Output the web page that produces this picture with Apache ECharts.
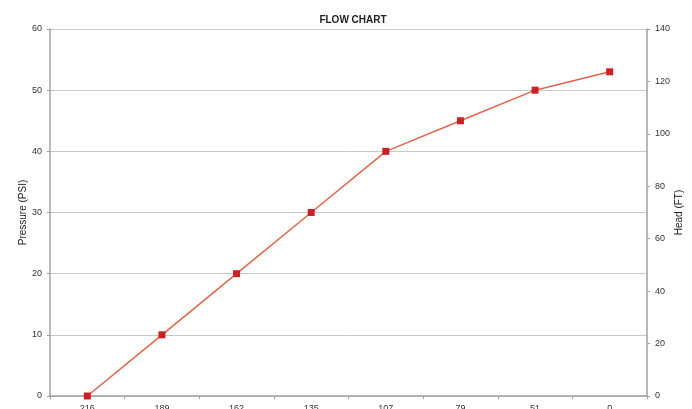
<!DOCTYPE html>
<html>
<head>
<meta charset="utf-8">
<script src="https://cdn.jsdelivr.net/npm/echarts@6/dist/echarts.min.js"></script>
<style>
html, body { margin: 0; padding: 0; background: #fff; }
#main { width: 692px; height: 409px; }
</style>
</head>
<body>
<div id="main"></div>
<script>
var dom = document.getElementById('main');
var myChart = echarts.init(dom);

// flow labels along the bottom (partly cut off in the picture)
var flowLabels = ['216', '189', '162', '135', '107', '79', '51', '0'];
// pressure readings in PSI
var pressure = [0, 10, 20, 30, 40, 45, 50, 53];

var axisGray = '#a0a0a0';
var labelStyle = { color: '#333', fontSize: 9, fontFamily: 'Liberation Sans' };

var option = {
    backgroundColor: '#fff',
    animation: false,
    title: {
        text: 'FLOW CHART',
        left: 348,
        textAlign: 'center',
        top: 10,
        textStyle: { fontSize: 10, fontWeight: 'bold', color: '#222', fontFamily: 'Liberation Sans' }
    },
    grid: { left: 50, right: 45, top: 29, bottom: 13, containLabel: false, outerBoundsMode: 'none' },
    xAxis: {
        type: 'category',
        data: flowLabels,
        boundaryGap: true,
        axisLine: { lineStyle: { color: axisGray, width: 1.5 } },
        axisTick: { show: true, length: 3, lineStyle: { color: axisGray } },
        axisLabel: Object.assign({ margin: 8 }, labelStyle)
    },
    yAxis: [{
        type: 'value',
        min: 0,
        max: 60,
        interval: 10,
        name: 'Pressure (PSI)',
        nameLocation: 'middle',
        nameGap: 22,
        nameMoveOverlap: false,
        nameTextStyle: { fontSize: 10, color: '#222', fontFamily: 'Liberation Sans' },
        axisLine: { show: true, lineStyle: { color: axisGray, width: 1.5 } },
        axisTick: { show: true, length: 3, lineStyle: { color: axisGray } },
        axisLabel: Object.assign({ margin: 8 }, labelStyle),
        splitLine: { lineStyle: { color: '#c8c8c8', width: 1 } }
    }, {
        type: 'value',
        position: 'right',
        min: 0,
        max: 140,
        interval: 20,
        name: 'Head (FT)',
        nameLocation: 'middle',
        nameGap: 27,
        nameMoveOverlap: false,
        nameTextStyle: { fontSize: 10, color: '#222', fontFamily: 'Liberation Sans' },
        axisLine: { show: true, lineStyle: { color: axisGray, width: 1.5 } },
        axisTick: { show: true, length: 3, lineStyle: { color: axisGray } },
        axisLabel: Object.assign({ margin: 8 }, labelStyle),
        splitLine: { show: false }
    }],
    series: [{
        type: 'line',
        data: pressure,
        yAxisIndex: 0,
        symbol: 'rect',
        symbolSize: 7,
        lineStyle: { color: '#e0654a', width: 1.5 },
        itemStyle: { color: '#cc2028' }
    }]
};

myChart.setOption(option);
</script>
</body>
</html>
